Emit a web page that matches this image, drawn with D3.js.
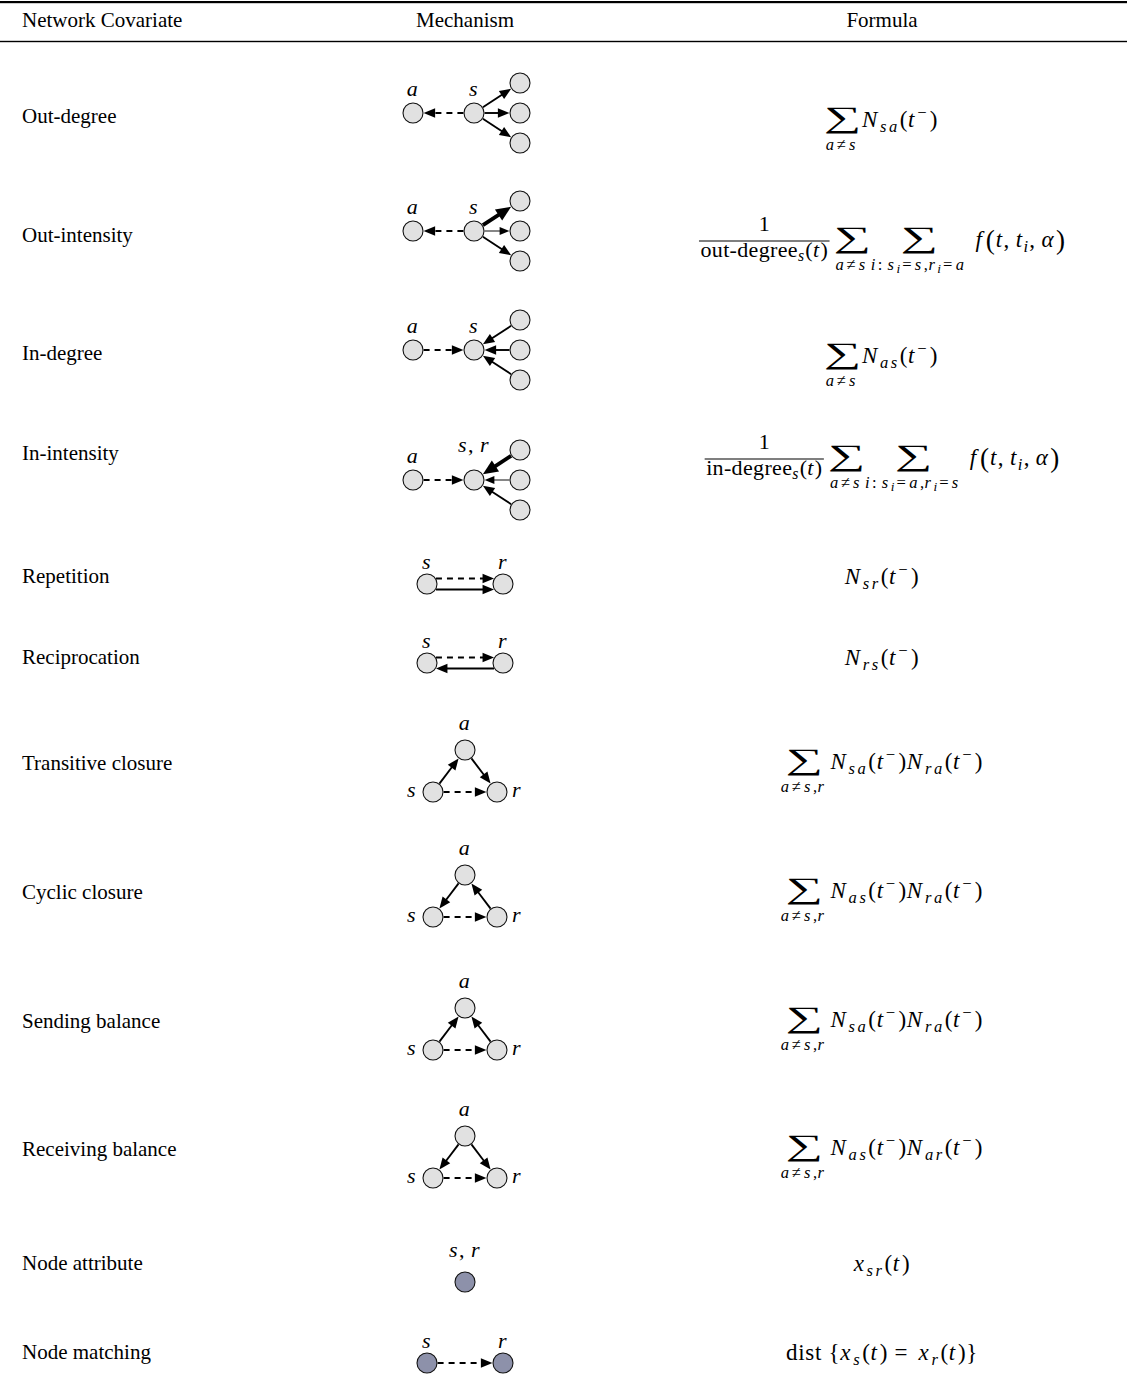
<!DOCTYPE html>
<html><head><meta charset="utf-8">
<script src="https://cdnjs.cloudflare.com/ajax/libs/d3/7.8.5/d3.min.js"></script>
<style>html,body{margin:0;padding:0;background:#fff}svg{display:block}text{white-space:pre}</style>
</head><body>
<svg id="chart" width="1127" height="1397"></svg>
<script>
// ===================== DATA =====================
const headers = ["Network Covariate", "Mechanism", "Formula"];
const covariates = ["Out-degree","Out-intensity","In-degree","In-intensity","Repetition","Reciprocation",
  "Transitive closure","Cyclic closure","Sending balance","Receiving balance","Node attribute","Node matching"];
const mechanismType = ["outStar","outStar","inStar","inStar","pair","pair",
  "triangle","triangle","triangle","triangle","single","pair"];
const nodeShade = ["light","light","light","light","light","light","light","light","light","light","dark","dark"];
// edges: [from, to, kind, relative weight, lane]
const mechanismEdges = [
  [["s","a","dash",1],["s","l1","solid",1],["s","l2","solid",1],["s","l3","solid",1]],
  [["s","a","dash",1],["s","l1","solid",2],["s","l2","solid",0.5],["s","l3","solid",1]],
  [["a","s","dash",1],["l1","s","solid",1],["l2","s","solid",1],["l3","s","solid",1]],
  [["a","s","dash",1],["l1","s","solid",2],["l2","s","solid",0.5],["l3","s","solid",1]],
  [["s","r","dash",1,"upper"],["s","r","solid",1,"lower"]],
  [["s","r","dash",1,"upper"],["r","s","solid",1,"lower"]],
  [["s","a","solid",1],["a","r","solid",1],["s","r","dash",1]],
  [["a","s","solid",1],["r","a","solid",1],["s","r","dash",1]],
  [["s","a","solid",1],["r","a","solid",1],["s","r","dash",1]],
  [["a","s","solid",1],["a","r","solid",1],["s","r","dash",1]],
  [],
  [["s","r","dash",1]]
];
const nodeLabels = [
  {a:"a", s:"s"}, {a:"a", s:"s"}, {a:"a", s:"s"}, {a:"a", s:"s, r"},
  {s:"s", r:"r"}, {s:"s", r:"r"},
  {a:"a", s:"s", r:"r"}, {a:"a", s:"s", r:"r"}, {a:"a", s:"s", r:"r"}, {a:"a", s:"s", r:"r"},
  {n:"s, r"}, {s:"s", r:"r"}
];
const formulas = [
  [{sum:"a≠s"}, {tex:"N_{sa}(t^{−})"}],
  [{frac:["1","\\rm{out-degree}_{s}(t)"]}, {sum:"a≠s"}, {sum:"i\\rm{:} s_{i}=s,r_{i}=a"}, {fn:["f","t, t_{i}, α"]}],
  [{sum:"a≠s"}, {tex:"N_{as}(t^{−})"}],
  [{frac:["1","\\rm{in-degree}_{s}(t)"]}, {sum:"a≠s"}, {sum:"i\\rm{:} s_{i}=a,r_{i}=s"}, {fn:["f","t, t_{i}, α"]}],
  [{tex:"N_{sr}(t^{−})"}],
  [{tex:"N_{rs}(t^{−})"}],
  [{sum:"a≠s,r"}, {tex:"N_{sa}(t^{−})N_{ra}(t^{−})"}],
  [{sum:"a≠s,r"}, {tex:"N_{as}(t^{−})N_{ra}(t^{−})"}],
  [{sum:"a≠s,r"}, {tex:"N_{sa}(t^{−})N_{ra}(t^{−})"}],
  [{sum:"a≠s,r"}, {tex:"N_{as}(t^{−})N_{ar}(t^{−})"}],
  [{tex:"x_{sr}(t)"}],
  [{tex:"\\rm{dist} \\{x_{s}(t) = x_{r}(t)\\}"}]
];

// ===================== LAYOUT =====================
const W = 1127, H = 1397;
const rowCenters = [116,235,353,453,576,657,763,892,1021,1149,1263,1352];
const mechNodeY  = [113,231,350,480,584,663,792,917,1050,1178,1282,1363];
const formulaBase= [127,247,363,465,584,665,769,898,1027,1155,1271,1360];
const SERIF = "'Liberation Serif','Times New Roman',Times,serif";
const MATH = 23, LABEL = 22, TEXT = 21;
const R = 10;
const SUM_W = 32, SUM_H = 26;
const shapes = {
  outStar:{pos:{a:[-52,0],s:[9,0],l1:[55,-30],l2:[55,0],l3:[55,30]}, lab:{a:[-52,-17],s:[9,-17]}},
  inStar: {pos:{a:[-52,0],s:[9,0],l1:[55,-30],l2:[55,0],l3:[55,30]}, lab:{a:[-52,-17],s:[9,-17]}},
  pair:   {pos:{s:[-38,0],r:[38,0]}, lab:{s:[-38,-15],r:[38,-15]}},
  triangle:{pos:{a:[0,-42],s:[-32,0],r:[32,0]}, lab:{a:[0,-62],s:[-53,5],r:[52,5]}},
  single: {pos:{n:[0,0]}, lab:{n:[0,-25]}}
};
const lanes = {upper:-5.5, lower:5.5};

const colX = d3.scaleOrdinal(headers, [22, 465, 882]);
const rowY = d3.scaleOrdinal(covariates, rowCenters);
const nodeY = d3.scaleOrdinal(covariates, mechNodeY);
const mathY = d3.scaleOrdinal(covariates, formulaBase);
const shadeFill = d3.scaleOrdinal(["light","dark"], ["#e1e1e1","#8d91aa"]);
const strokeW = d3.scaleLinear([0,1], [0,1.9]);

const svg = d3.select('#chart');
const ctx = document.createElement('canvas').getContext('2d');
function ink(txt, size){
  ctx.font = `${size}px 'Liberation Serif'`;
  const m = ctx.measureText(txt);
  return {l:m.actualBoundingBoxLeft, r:m.actualBoundingBoxRight, a:m.actualBoundingBoxAscent, d:m.actualBoundingBoxDescent, w:m.width};
}

// ---- mini TeX-like parser ----
function matchBrace(s, open){ let d=0; for(let k=open;k<s.length;k++){ if(s[k]==='{')d++; else if(s[k]==='}'){d--; if(d===0) return k;} } return s.length; }
const LEVEL_SCALE=[1,0.72,0.58,0.5];
function parseTex(src, level0, base){
  const out=[];
  const size = l => base*LEVEL_SCALE[Math.min(l,3)];
  (function walk(s, level, shift, upright){
    let j=0;
    while(j<s.length){
      const c=s[j];
      if(c==='\\'){
        if(s.startsWith('\\rm{',j)){ const e=matchBrace(s,j+3); walk(s.slice(j+4,e),level,shift,true); j=e+1; continue; }
        if(s[j+1]==='{'||s[j+1]==='}'){ out.push({c:s[j+1],level,shift,it:false}); j+=2; continue; }
      }
      if(c==='_'||c==='^'){
        let body,next;
        if(s[j+1]==='{'){ const e=matchBrace(s,j+1); body=s.slice(j+2,e); next=e+1; } else { body=s[j+1]; next=j+2; }
        const fs=size(level);
        walk(body, level+1, shift + (c==='_' ? fs*0.2 : -fs*0.38), upright);
        j=next; continue;
      }
      out.push({c, level, shift, it: !upright && /[A-Za-zα-ω]/.test(c)});
      j++;
    }
  })(src, level0, 0, false);
  return out.map(o=>({t:o.c, level:o.level, shift:o.shift, it:o.it, size:size(o.level)}));
}
// spacing that widens the Times-like glyphs towards Computer Modern proportions
function glyphSpacing(r, scale){
  if(r.it) return (r.level>0 ? 0.15 : 0.12)*r.size*scale;
  if('−=≠'.includes(r.t)) return 0.2*r.size*scale;
  return 0.03*r.size*scale;
}
function texText(g, src, x, y, opt={}){
  const runs=parseTex(src, opt.level||0, opt.base||MATH);
  const sc = opt.spacing==null?1:opt.spacing;
  const t=g.append('text').attr('x',x).attr('y',y).attr('text-anchor',opt.anchor||'start')
    .attr('font-family',SERIF).attr('fill','#000');
  let prev=0;
  runs.forEach(r=>{
    t.append('tspan').attr('font-size',r.size).attr('font-style',r.it?'italic':'normal')
      .attr('letter-spacing', glyphSpacing(r, sc))
      .attr('dy', r.shift-prev).text(r.t);
    prev=r.shift;
  });
  return t;
}
const textW = t => t.node().getComputedTextLength();

function draw(){
  // ---- rules & header ----
  svg.append('rect').attr('x',0).attr('y',1).attr('width',W).attr('height',2.2).attr('fill','#000');
  svg.append('rect').attr('x',0).attr('y',40.8).attr('width',W).attr('height',1.4).attr('fill','#000');
  svg.selectAll('text.header').data(headers).join('text').attr('class','header')
    .attr('x', d=>colX(d)).attr('y', 27).attr('text-anchor', (d,i)=> i===0?'start':'middle')
    .attr('font-family',SERIF).attr('font-size',TEXT).attr('fill','#000').text(d=>d);

  // ---- row labels ----
  svg.selectAll('text.rowlab').data(covariates).join('text').attr('class','rowlab')
    .attr('x', colX(headers[0])).attr('y', d=>rowY(d)+7)
    .attr('font-family',SERIF).attr('font-size',TEXT).attr('fill','#000').text(d=>d);

  // ---- mechanisms ----
  covariates.forEach((cov,i)=>{
    const shape = shapes[mechanismType[i]];
    const g = svg.append('g').attr('transform',`translate(${colX(headers[1])},${nodeY(cov)})`);
    const P = id => ({x:shape.pos[id][0], y:shape.pos[id][1]});
    mechanismEdges[i].forEach(([from,to,kind,wt,lane])=>{
      const p=P(from), q=P(to);
      const oy = lane ? lanes[lane] : 0;
      const dx=q.x-p.x, dy=q.y-p.y, len=Math.hypot(dx,dy), ux=dx/len, uy=dy/len;
      const nx=-uy, ny=ux;
      const along=Math.sqrt(R*R-oy*oy) + 0.6;
      const sx=p.x+ux*along, sy=p.y+oy+uy*along;
      const ex=q.x-ux*along, ey=q.y+oy-uy*along;
      const L=8+3.5*wt, hw=3+1.8*wt;
      const bx=ex-ux*L, by=ey-uy*L;
      const path=d3.path(); path.moveTo(sx,sy); path.lineTo(bx+ux*1,by+uy*1);
      g.append('path').attr('d',path.toString()).attr('fill','none').attr('stroke','#000')
        .attr('stroke-width',strokeW(wt)).attr('stroke-dasharray', kind==='dash'?'6,5':null);
      const hp=d3.path(); hp.moveTo(ex,ey); hp.lineTo(bx+nx*hw,by+ny*hw); hp.lineTo(bx-nx*hw,by-ny*hw); hp.closePath();
      g.append('path').attr('d',hp.toString()).attr('fill','#000');
    });
    Object.keys(shape.pos).forEach(id=>{
      g.append('circle').attr('cx',shape.pos[id][0]).attr('cy',shape.pos[id][1]).attr('r',R)
        .attr('fill',shadeFill(nodeShade[i])).attr('stroke','#111').attr('stroke-width',1.1);
    });
    Object.entries(nodeLabels[i]).forEach(([id,txt])=>{
      const [lx,ly0]=shape.lab[id];
      const ly = (txt.includes(',') && mechanismType[i].endsWith('Star')) ? ly0-11 : ly0;
      texText(g, txt, lx, ly, {anchor:'middle', base:LABEL, spacing:0.6});
    });
  });

  // ---- formulas ----
  const gap=(a,b)=>{ if(!a) return 0; if(a==='frac') return 6; if(a==='sum'&&b==='sum') return 3; if(a==='sum'&&b==='fn') return 9; if(a==='sum') return 4; return 2; };
  const pInk=ink('(',100), kP=25/(pInk.a+pInk.d), fsP=100*kP;
  const sInk=ink('∑',100);
  covariates.forEach((cov,i)=>{
    const base=mathY(cov);
    const g=svg.append('g');
    let x=0, prev=null;
    formulas[i].forEach(item=>{
      const type=Object.keys(item)[0];
      x+=gap(prev,type);
      if(type==='tex'){
        const t=texText(g,item.tex,x,base); x+=textW(t);
      } else if(type==='sum'){
        const sub=texText(g,item.sum,0,base+23,{level:1,anchor:'middle'});
        const w=Math.max(SUM_W,textW(sub)); const cx=x+w/2;
        sub.attr('x',cx);
        const sxs=SUM_W/(sInk.l+sInk.r), sys=SUM_H/(sInk.a+sInk.d);
        const cy=base-6.5;
        g.append('text').attr('font-family',SERIF).attr('font-size',100).attr('fill','#000')
          .attr('transform',`translate(${cx-(sInk.r-sInk.l)/2*sxs},${cy-(sInk.d-sInk.a)/2*sys}) scale(${sxs},${sys})`)
          .text('∑');
        x+=w;
      } else if(type==='frac'){
        const bar=base-6;
        const num=texText(g,item.frac[0],0,bar-10,{anchor:'middle',base:22,spacing:0});
        const den=texText(g,item.frac[1],0,bar+16,{anchor:'middle',base:22,spacing:0.5});
        const bw=Math.max(textW(num),textW(den))+3, cx=x+bw/2;
        num.attr('x',cx); den.attr('x',cx);
        g.append('rect').attr('x',x).attr('y',bar-0.5).attr('width',bw).attr('height',1).attr('fill','#000');
        x+=bw;
      } else if(type==='fn'){
        const f=texText(g,item.fn[0],x,base); x+=textW(f)+1;
        const py=base-5-(pInk.d-pInk.a)/2*kP;
        g.append('text').attr('x',x).attr('y',py).attr('font-family',SERIF).attr('font-size',fsP).attr('fill','#000').text('(');
        x+=pInk.w*kP+1;
        const a=texText(g,item.fn[1],x,base,{spacing:0.5}); x+=textW(a)+1;
        g.append('text').attr('x',x).attr('y',py).attr('font-family',SERIF).attr('font-size',fsP).attr('fill','#000').text(')');
        x+=pInk.w*kP;
      }
      prev=type;
    });
    g.attr('transform',`translate(${colX(headers[2])-x/2},0)`);
  });
}
if(document.fonts && document.fonts.ready){ document.fonts.ready.then(draw); } else { draw(); }
</script>
</body></html>
